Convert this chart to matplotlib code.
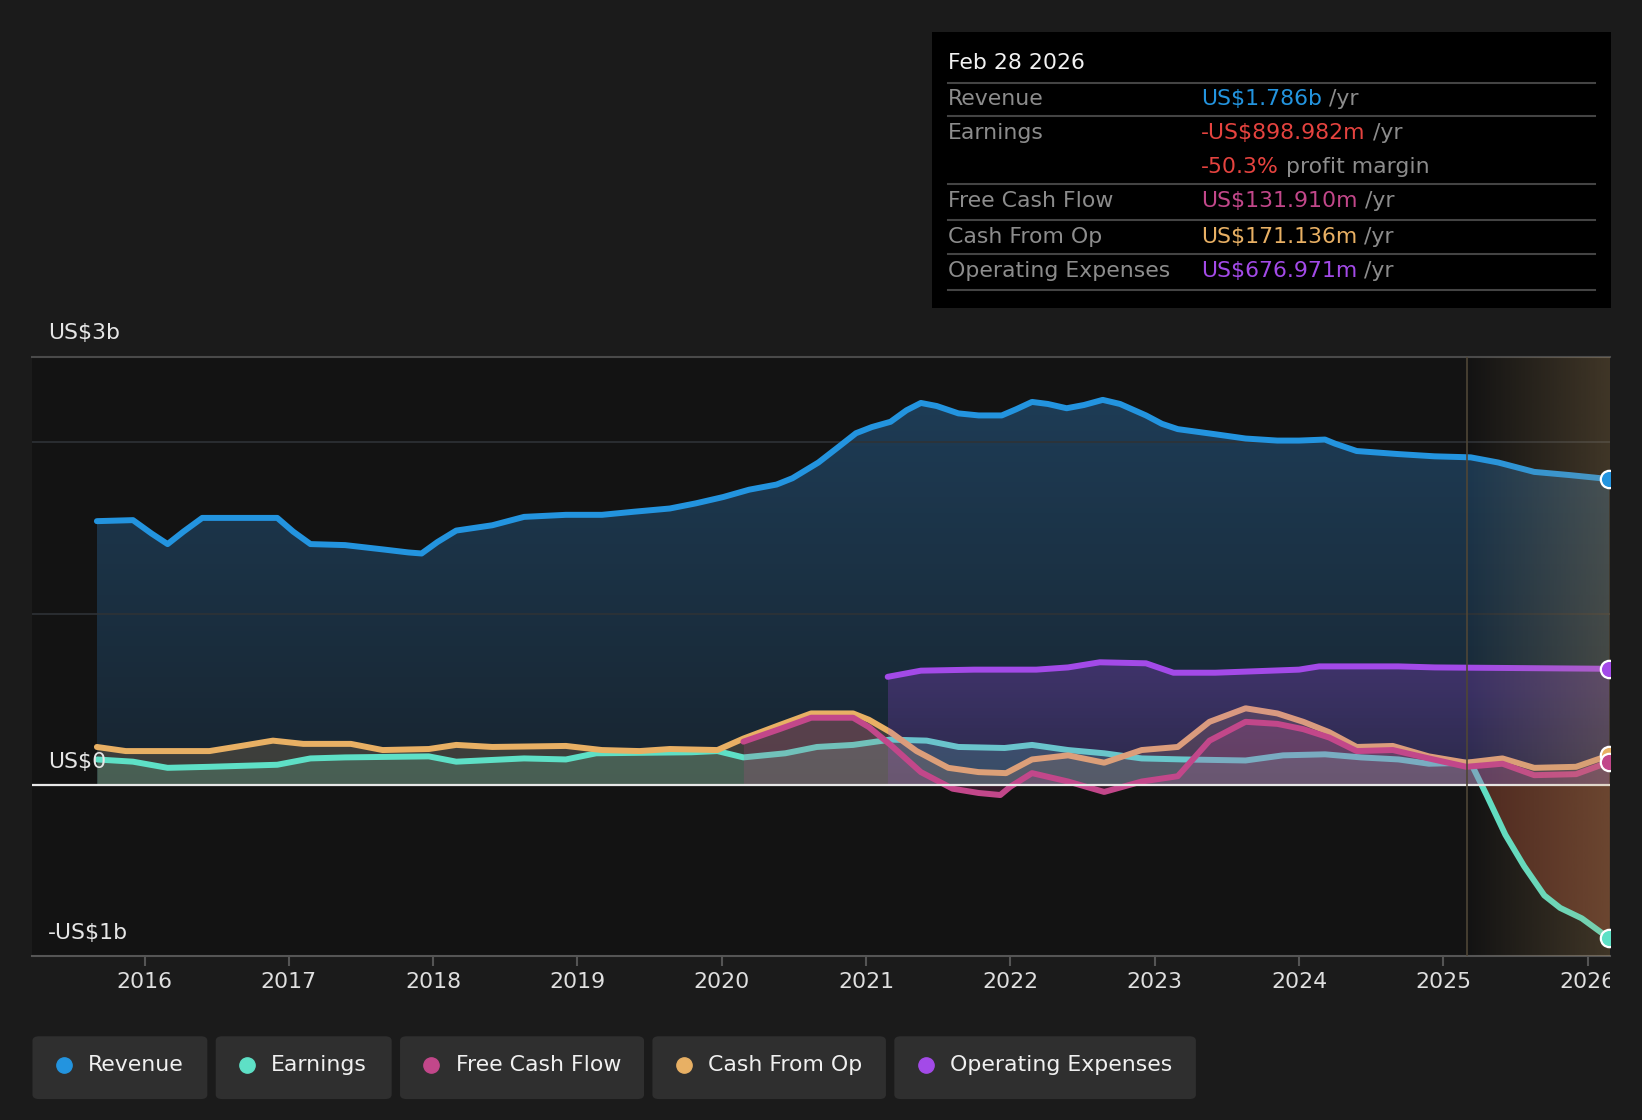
import numpy as np
import matplotlib
matplotlib.use("Agg")
import matplotlib.pyplot as plt
from matplotlib.patches import FancyBboxPatch, Rectangle
from matplotlib.lines import Line2D
from matplotlib.transforms import Bbox, TransformedBbox

# %% data (US$ billions, decimal years)
rev_t = [2015.67, 2015.92, 2016.05, 2016.16, 2016.27, 2016.40, 2016.92, 2017.03, 2017.15, 2017.39,
         2017.65, 2017.83, 2017.92, 2018.03, 2018.16, 2018.41, 2018.63, 2018.92, 2019.17, 2019.39,
         2019.64, 2019.82, 2020.01, 2020.19, 2020.38, 2020.49, 2020.67, 2020.80, 2020.93, 2021.04,
         2021.17, 2021.28, 2021.38, 2021.49, 2021.64, 2021.78, 2021.94, 2022.04, 2022.15, 2022.26,
         2022.39, 2022.51, 2022.64, 2022.76, 2022.94, 2023.05, 2023.16, 2023.42, 2023.63, 2023.85,
         2024.00, 2024.18, 2024.25, 2024.40, 2024.69, 2024.94, 2025.19, 2025.38, 2025.63, 2025.88,
         2026.15]
rev_v = [1.540, 1.546, 1.467, 1.406, 1.479, 1.559, 1.559, 1.479, 1.406, 1.400,
         1.375, 1.357, 1.351, 1.418, 1.485, 1.516, 1.565, 1.577, 1.577, 1.595,
         1.614, 1.644, 1.681, 1.724, 1.754, 1.791, 1.883, 1.968, 2.054, 2.090,
         2.121, 2.188, 2.231, 2.213, 2.170, 2.158, 2.158, 2.194, 2.237, 2.225,
         2.200, 2.219, 2.249, 2.225, 2.158, 2.109, 2.078, 2.048, 2.023, 2.011,
         2.011, 2.017, 1.993, 1.950, 1.932, 1.919, 1.913, 1.883, 1.828, 1.809,
         1.786]

earn_t = [2015.67, 2015.92, 2016.16, 2016.45, 2016.92, 2017.15, 2017.39, 2017.97, 2018.16, 2018.63,
          2018.92, 2019.13, 2019.79, 2019.97, 2020.15, 2020.44, 2020.66, 2020.91, 2021.17, 2021.42,
          2021.64, 2021.96, 2022.15, 2022.40, 2022.65, 2022.91, 2023.20, 2023.63, 2023.89, 2024.18,
          2024.43, 2024.69, 2024.90, 2025.19, 2025.30, 2025.43, 2025.56, 2025.70, 2025.81, 2025.96,
          2026.15]
earn_v = [0.147, 0.134, 0.098, 0.104, 0.116, 0.153, 0.159, 0.165, 0.134, 0.153,
          0.147, 0.183, 0.189, 0.196, 0.159, 0.183, 0.220, 0.232, 0.263, 0.257,
          0.220, 0.214, 0.232, 0.202, 0.183, 0.153, 0.147, 0.141, 0.171, 0.177,
          0.159, 0.147, 0.122, 0.128, -0.061, -0.293, -0.477, -0.648, -0.721, -0.782,
          -0.899]

cfo_t = [2015.67, 2015.87, 2016.45, 2016.67, 2016.89, 2017.10, 2017.43, 2017.65, 2017.97, 2018.16,
         2018.41, 2018.92, 2019.17, 2019.43, 2019.64, 2019.97, 2020.15, 2020.40, 2020.62, 2020.91,
         2021.02, 2021.17, 2021.35, 2021.57, 2021.78, 2021.97, 2022.15, 2022.40, 2022.65, 2022.91,
         2023.16, 2023.38, 2023.63, 2023.85, 2024.03, 2024.21, 2024.40, 2024.65, 2024.90, 2025.16,
         2025.41, 2025.63, 2025.92, 2026.15]
cfo_v = [0.220, 0.196, 0.196, 0.226, 0.257, 0.238, 0.238, 0.202, 0.208, 0.232,
         0.220, 0.226, 0.202, 0.196, 0.208, 0.202, 0.269, 0.348, 0.416, 0.416,
         0.379, 0.306, 0.196, 0.098, 0.073, 0.067, 0.147, 0.171, 0.128, 0.202,
         0.220, 0.367, 0.446, 0.416, 0.367, 0.306, 0.220, 0.226, 0.165, 0.128,
         0.153, 0.098, 0.104, 0.171]

fcf_t = [2020.15, 2020.40, 2020.62, 2020.91, 2021.02, 2021.17, 2021.38, 2021.60, 2021.78, 2021.93,
         2022.00, 2022.15, 2022.40, 2022.65, 2022.91, 2023.16, 2023.38, 2023.63, 2023.85, 2024.03,
         2024.21, 2024.40, 2024.65, 2024.90, 2025.16, 2025.41, 2025.63, 2025.92, 2026.15]
fcf_v = [0.251, 0.324, 0.391, 0.391, 0.336, 0.232, 0.073, -0.024, -0.049, -0.061,
         -0.012, 0.067, 0.018, -0.043, 0.018, 0.049, 0.257, 0.367, 0.355, 0.324,
         0.275, 0.196, 0.202, 0.153, 0.104, 0.122, 0.055, 0.061, 0.132]

opex_t = [2021.15, 2021.38, 2021.75, 2022.18, 2022.40, 2022.62, 2022.94, 2023.13, 2023.42, 2024.00,
          2024.14, 2024.69, 2024.94, 2026.15]
opex_v = [0.630, 0.666, 0.672, 0.672, 0.685, 0.715, 0.709, 0.654, 0.654, 0.672,
          0.691, 0.691, 0.685, 0.677]

years = list(range(2016, 2027))
forecast_start = 2025.165

series_names = ["Revenue", "Earnings", "Free Cash Flow", "Cash From Op", "Operating Expenses"]
tooltip_vals = ["US$1.786b", "-US$898.982m", "US$131.910m", "US$171.136m", "US$676.971m"]
margin_txt = "-50.3%"
tooltip_date = "Feb 28 2026"

C_REV = "#2394df"
C_EARN = "#5ee0c6"
C_FCF = "#c2478a"
C_CFO = "#e8b064"
C_OPEX = "#a34ae8"
C_RED = "#e5433f"
series_colors = [C_REV, C_EARN, C_FCF, C_CFO, C_OPEX]

BG = "#1b1b1b"
PLOT_BG = "#131313"
W, H = 1568.0, 1070.0  # reference layout grid
FS = 15.8
LW = 4.3


def fx(x):
    return x / W


def fy(y):
    return 1 - y / H


def grad_fill(ax, x, y, rgb, a_top, a_bot, y_top, zorder):
    poly = ax.fill_between(x, y, 0, facecolor="none", edgecolor="none")
    path = poly.get_paths()[0]
    img = np.zeros((256, 1, 4))
    img[:, 0, :3] = rgb
    img[:, 0, 3] = np.linspace(a_top, a_bot, 256)
    im = ax.imshow(img, aspect="auto", extent=[min(x), max(x), 0, y_top],
                   origin="upper", zorder=zorder, interpolation="bilinear")
    im.set_clip_path(path, transform=ax.transData)


def line(ax, t, v, c, z):
    ax.plot(t, v, color=c, lw=LW, zorder=z, solid_capstyle="round", solid_joinstyle="round")


fig = plt.figure(figsize=(16.42, 11.2), dpi=100, facecolor=BG)
ax = fig.add_axes([fx(31), fy(913), fx(1537) - fx(31), fy(341) - fy(913)])
ax.set_facecolor(PLOT_BG)

# fills
grad_fill(ax, rev_t, rev_v, (0.157, 0.392, 0.588), 0.52, 0.22, 2.3, 1)
et = np.array(earn_t)
ev = np.array(earn_v)
ax.fill_between(et, ev, 0, where=ev >= 0, interpolate=True, color=C_EARN, alpha=0.22, lw=0, zorder=2)
ax.fill_between(et, ev, 0, where=ev <= 0, interpolate=True, color="#c8553a", alpha=0.32, lw=0, zorder=2)
ax.fill_between(cfo_t, cfo_v, 0, color=C_CFO, alpha=0.18, lw=0, zorder=2)

line(ax, earn_t, earn_v, C_EARN, 3)
line(ax, cfo_t, cfo_v, C_CFO, 3)

ax.fill_between(fcf_t, fcf_v, 0, color=C_FCF, alpha=0.2, lw=0, zorder=4)
grad_fill(ax, opex_t, opex_v, (0.64, 0.29, 0.91), 0.28, 0.14, 0.72, 4)

line(ax, fcf_t, fcf_v, C_FCF, 5)
line(ax, opex_t, opex_v, C_OPEX, 5)
line(ax, rev_t, rev_v, C_REV, 5)

# grid and reference lines
for g in [1, 2]:
    ax.axhline(g, color="#2e3236", lw=1.2, zorder=1.5)
ax.axhline(0, color="#e8e8e8", lw=1.6, zorder=6)
ax.axhline(2.5, color="#4a4a4a", lw=1.5, zorder=6, clip_on=False)

# forecast shading
x0, x1 = 2015.2235, 2026.152
fc = np.zeros((1, 256, 4))
fc[0, :, :3] = (200 / 255, 160 / 255, 100 / 255)
fc[0, :, 3] = np.linspace(0.0, 0.25, 256)
ax.imshow(fc, aspect="auto", extent=[forecast_start, x1, -1, 2.5], zorder=7, interpolation="bilinear")
ax.axvline(forecast_start, color="#4f4636", lw=1.2, zorder=7)

# end markers
for t, v, c in [(rev_t, rev_v, C_REV), (opex_t, opex_v, C_OPEX), (cfo_t, cfo_v, C_CFO),
                (fcf_t, fcf_v, C_FCF), (earn_t, earn_v, C_EARN)]:
    ax.plot(t[-1], v[-1], "o", ms=12.5, color=c, mec="white", mew=1.6, zorder=8)

ax.set_xlim(x0, x1)
ax.set_ylim(-1, 2.5)
for s in ["top", "right", "left"]:
    ax.spines[s].set_visible(False)
ax.spines["bottom"].set_color("#555555")
ax.spines["bottom"].set_linewidth(1.5)
ax.set_yticks([])
ax.set_xticks(years)
ax.set_xticklabels([str(y) for y in years])
ax.tick_params(axis="x", colors="#555555", labelcolor="#e0e0e0", length=7, width=1.5,
               labelsize=FS, pad=5)
clip = TransformedBbox(Bbox([[0, 0], [fx(1537), 1]]), fig.transFigure)
for lab in ax.get_xticklabels():
    lab.set_clip_box(clip)
    lab.set_clip_on(True)

# y labels
for txt, y in [("US$3b", 318), ("US$0", 728), ("-US$1b", 891)]:
    fig.text(fx(46), fy(y), txt, color="#e6e6e6", fontsize=FS, va="center", ha="left", zorder=10)

# tooltip
fig.add_artist(Rectangle((fx(890), fy(294)), fx(1538) - fx(890), fy(31) - fy(294),
                         transform=fig.transFigure, facecolor="black", edgecolor="none", zorder=5))
fig.text(fx(905), fy(60), tooltip_date, color="#f2f2f2", fontsize=FS, va="center", zorder=6)
for y in [79, 111, 176, 210, 243, 277]:
    fig.add_artist(Line2D([fx(905), fx(1523)], [fy(y), fy(y)], transform=fig.transFigure,
                          color="#444444", lw=1.5, zorder=6))

row_y = [94, 126, 191, 226, 258]
val_colors = [C_REV, C_RED, C_FCF, C_CFO, C_OPEX]
GREY = "#8c8c8c"


def two_tone(x, y, first, c1, second, c2):
    base = fy(y) - 0.006
    t1 = fig.text(fx(x), base, first, color=c1, fontsize=FS, va="baseline", zorder=6)
    fig.add_artist(plt.Annotation(second, xy=(1, base), xycoords=(t1, "figure fraction"),
                                  color=c2, fontsize=FS, va="baseline", ha="left", zorder=6))


for name, val, col, y in zip(series_names, tooltip_vals, val_colors, row_y):
    fig.text(fx(905), fy(y) - 0.006, name, color=GREY, fontsize=FS, va="baseline", zorder=6)
    two_tone(1147, y, val, col, " /yr", GREY)
two_tone(1147, 159, margin_txt, C_RED, " profit margin", GREY)

# legend
boxes = [(31, 198), (206, 374), (382, 615), (623, 846), (854, 1142)]
for (bx0, bx1), name, col in zip(boxes, series_names, series_colors):
    fig.add_artist(FancyBboxPatch((fx(bx0), fy(1050)), fx(bx1) - fx(bx0), fy(990) - fy(1050),
                                  boxstyle="round,pad=0,rounding_size=0.004",
                                  transform=fig.transFigure, facecolor="#2f2f2f",
                                  edgecolor="none", zorder=5))
    fig.add_artist(Line2D([fx(bx0 + 30)], [fy(1017)], marker="o", ms=11, color=col,
                          transform=fig.transFigure, zorder=6))
    fig.text(fx(bx0 + 53), fy(1017), name, color="#f0f0f0", fontsize=FS, va="center", zorder=6)

fig.savefig("out.png", dpi=100, facecolor=BG)
